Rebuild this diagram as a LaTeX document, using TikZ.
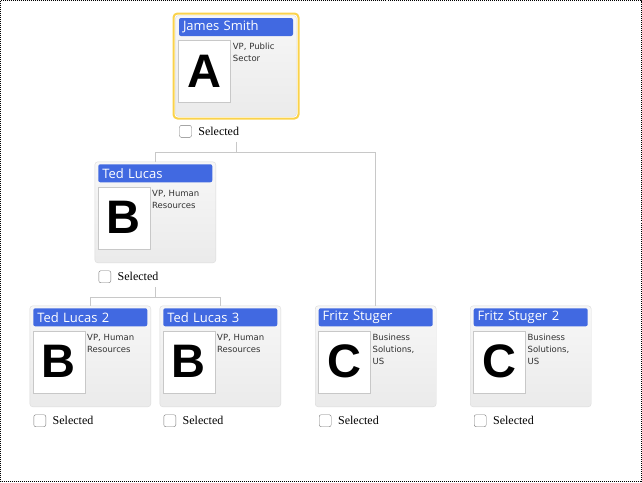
\documentclass[tikz,border=0pt]{standalone}
\usepackage{fontspec}
\setmainfont{Liberation Serif}
\newfontfamily\headfont{Open Sans}
\newfontfamily\descfont{DejaVu Sans}
\newfontfamily\photofont{Liberation Sans}
\usepackage{tikz}
\usetikzlibrary{positioning}
\definecolor{headblue}{RGB}{65,105,225}
\definecolor{ringgold}{RGB}{250,210,75}
\definecolor{cardline}{RGB}{218,218,218}
\definecolor{linkgray}{RGB}{200,200,200}
\definecolor{boxgray}{RGB}{120,120,120}
\definecolor{photoline}{RGB}{200,200,200}
\definecolor{desctext}{RGB}{50,50,50}
\tikzset{
  card/.style={draw=cardline, rounded corners=3pt, top color=white!97!black, bottom color=white!92!black,
    minimum width=121pt, minimum height=101pt, inner sep=0pt},
  ring/.style={draw=ringgold, line width=2pt, rounded corners=4pt, minimum width=125pt, minimum height=105pt, inner sep=0pt},
  header/.style={fill=headblue, rounded corners=2pt, text=white, font=\headfont\fontsize{13}{14}\selectfont,
    text width=106pt, inner xsep=4pt, inner ysep=0pt, minimum height=18pt, align=left},
  photo/.style={draw=photoline, fill=white, minimum width=52pt, minimum height=62pt, inner sep=0pt,
    font=\photofont\bfseries\fontsize{47}{47}\selectfont},
  desc/.style={font=\descfont\fontsize{8.5}{12}\selectfont, text=desctext, text width=62pt, align=left, inner sep=1pt},
  checkbox/.style={draw=boxgray, fill=white, rounded corners=2pt, minimum size=12pt, inner sep=0pt},
  sel/.style={font=\fontsize{12}{14}\selectfont, inner sep=0pt},
  link/.style={draw=linkgray, line width=1pt},
}
\begin{document}
\begin{tikzpicture}[x=1pt,y=-1pt]
\useasboundingbox (0,0) rectangle (642,482);
\draw[dash pattern=on 1pt off 1pt, line width=1pt] (0.5,0.5) rectangle (641.5,481.5);
% cards
\node[card] (smith) at (236,66) {};
\node[ring] (smithring) at (smith) {};
\node[card] (lucas) at (155.3,212.3) {};
\node[card] (lucas2) at (90.3,356.3) {};
\node[card] (lucas3) at (220.3,356.3) {};
\node[card] (stuger) at (375.7,356.3) {};
\node[card] (stuger2) at (530.7,356.3) {};
% headers
\node[header, below=2.5pt of smith.north] (smithhead) {James Smith};
\node[header, below=2.5pt of lucas.north] (lucashead) {Ted Lucas};
\node[header, below=2.5pt of lucas2.north] (lucas2head) {Ted Lucas 2};
\node[header, below=2.5pt of lucas3.north] (lucas3head) {Ted Lucas 3};
\node[header, below=2.5pt of stuger.north] (stugerhead) {Fritz Stuger};
\node[header, below=2.5pt of stuger2.north] (stuger2head) {Fritz Stuger 2};
% photos
\node[photo, below right=25pt and 3pt of smith.north west] (smithphoto) {A};
\node[photo, below right=25pt and 3pt of lucas.north west] (lucasphoto) {B};
\node[photo, below right=25pt and 3pt of lucas2.north west] (lucas2photo) {B};
\node[photo, below right=25pt and 3pt of lucas3.north west] (lucas3photo) {B};
\node[photo, below right=25pt and 3pt of stuger.north west] (stugerphoto) {C};
\node[photo, below right=25pt and 3pt of stuger2.north west] (stuger2photo) {C};
% descriptions
\node[desc, below right=2pt and 1pt of smithphoto.north east] (smithdesc) {VP, Public\\Sector};
\node[desc, below right=2pt and 1pt of lucasphoto.north east] (lucasdesc) {VP, Human\\Resources};
\node[desc, below right=2pt and 1pt of lucas2photo.north east] (lucas2desc) {VP, Human\\Resources};
\node[desc, below right=2pt and 1pt of lucas3photo.north east] (lucas3desc) {VP, Human\\Resources};
\node[desc, below right=2pt and 1pt of stugerphoto.north east] (stugerdesc) {Business\\Solutions,\\US};
\node[desc, below right=2pt and 1pt of stuger2photo.north east] (stuger2desc) {Business\\Solutions,\\US};
% check boxes
\node[checkbox, below right=8.5pt and 4pt of smith.south west] (smithbox) {};
\node[checkbox, below right=7.5pt and 4pt of lucas.south west] (lucasbox) {};
\node[checkbox, below right=7.5pt and 4pt of lucas2.south west] (lucas2box) {};
\node[checkbox, below right=7.5pt and 4pt of lucas3.south west] (lucas3box) {};
\node[checkbox, below right=7.5pt and 4pt of stuger.south west] (stugerbox) {};
\node[checkbox, below right=7.5pt and 4pt of stuger2.south west] (stuger2box) {};
\node[sel, right=6.5pt of smithbox] (smithsel) {Selected};
\node[sel, right=6.5pt of lucasbox] (lucassel) {Selected};
\node[sel, right=6.5pt of lucas2box] (lucas2sel) {Selected};
\node[sel, right=6.5pt of lucas3box] (lucas3sel) {Selected};
\node[sel, right=6.5pt of stugerbox] (stugersel) {Selected};
\node[sel, right=6.5pt of stuger2box] (stuger2sel) {Selected};
% connectors
\coordinate[below=25pt of smith] (smithout);
\draw[link] (smithout) -- ++(0,10.5) coordinate (smithfork) -| (lucas.north);
\draw[link] (smithfork) -| (stuger.north);
\coordinate[below=24pt of lucas] (lucasout);
\draw[link] (lucasout) -- ++(0,10) coordinate (lucasfork) -| (lucas2.north);
\draw[link] (lucasfork) -| (lucas3.north);
\end{tikzpicture}
\end{document}
